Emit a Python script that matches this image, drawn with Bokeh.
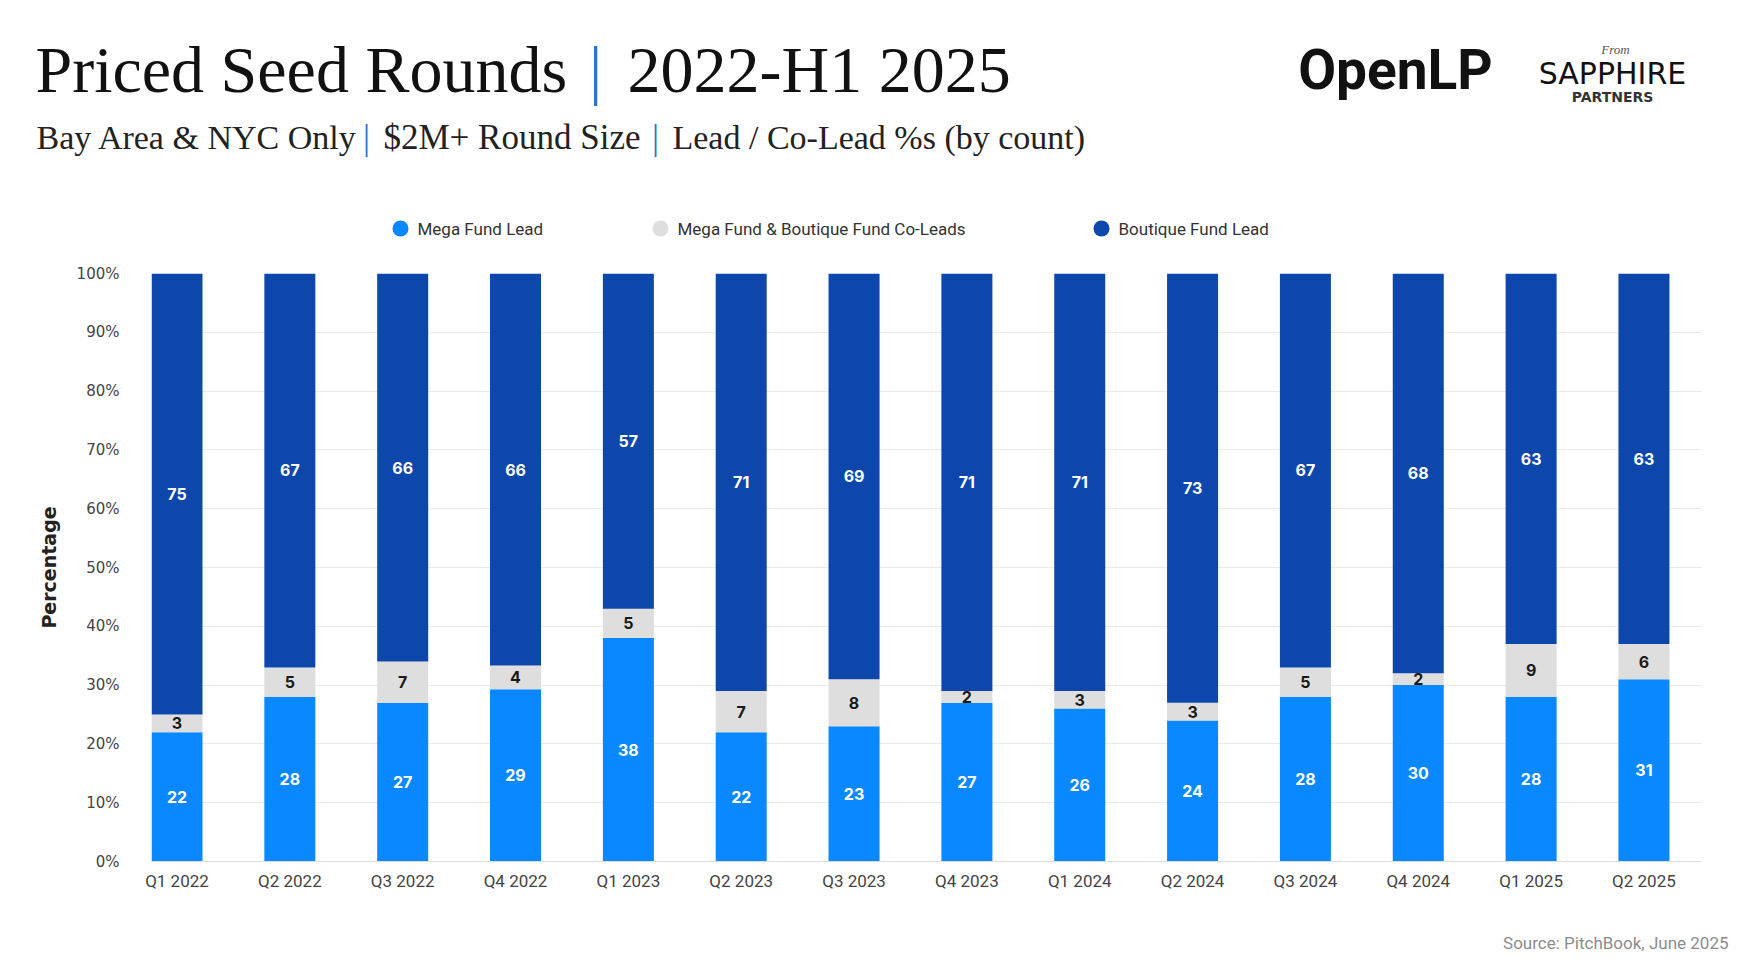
from bokeh.plotting import figure
from bokeh.layouts import column
from bokeh.models import (Range1d, FixedTicker, PrintfTickFormatter, ColumnDataSource, Label)
from bokeh.embed import file_html
from bokeh.resources import INLINE
from bokeh.core.properties import value

quarters = ["Q1 2022", "Q2 2022", "Q3 2022", "Q4 2022", "Q1 2023", "Q2 2023", "Q3 2023",
            "Q4 2023", "Q1 2024", "Q2 2024", "Q3 2024", "Q4 2024", "Q1 2025", "Q2 2025"]
mega_lead = [22, 28, 27, 29, 38, 22, 23, 27, 26, 24, 28, 30, 28, 31]
co_leads = [3, 5, 7, 4, 5, 7, 8, 2, 3, 3, 5, 2, 9, 6]
boutique_lead = [75, 67, 66, 66, 57, 71, 69, 71, 71, 73, 67, 68, 63, 63]
y_ticks = [0, 10, 20, 30, 40, 50, 60, 70, 80, 90, 100]
series_names = ["Mega Fund Lead", "Mega Fund & Boutique Fund Co-Leads", "Boutique Fund Lead"]

MEGA = "#0A88FF"
CO = "#DEDEDE"
BOUT = "#0D47AB"
SEP = "#2C74C9"
series_colors = [MEGA, CO, BOUT]

W = 1746
HEAD_H = 260
CHART_H = 645
FOOT_H = 55
FL, FR, FT, FB = 151, 1701, 273, 861   # frame in page coords


def blank(height):
    f = figure(width=W, height=height, output_backend="svg", toolbar_location=None,
               x_range=Range1d(0, W), y_range=Range1d(height, 0), title=None,
               x_axis_type=None, y_axis_type=None, min_border=0)
    f.min_border_left = f.min_border_right = f.min_border_top = f.min_border_bottom = 0
    f.frame_align = False
    f.xgrid.visible = False
    f.ygrid.visible = False
    f.outline_line_color = None
    f.background_fill_color = "white"
    f.border_fill_color = "white"
    return f


# ---------------- header ----------------
head = blank(HEAD_H)


def hlab(fig, text, x, y, **kw):
    fig.add_layout(Label(x=x, y=y, text=text, **kw))


serif = dict(text_font="Liberation Serif", text_baseline="alphabetic")
TY = 69
hlab(head, "Priced Seed Rounds", 35, TY, text_font_size="66px", text_color="#111111", **serif)
hlab(head, "|", 595, TY, text_font_size="66px", text_color=SEP, text_align="center", **serif)
hlab(head, "2022-H1 2025", 627, TY, text_font_size="66px", text_color="#111111", **serif)

SY = 137
hlab(head, "Bay Area & NYC Only", 36, SY, text_font_size="34px", text_color="#222222", **serif)
hlab(head, "|", 366, SY, text_font_size="35px", text_color=SEP, text_align="center", **serif)
hlab(head, "$2M+ Round Size", 383, SY, text_font_size="35px", text_color="#222222", **serif)
hlab(head, "|", 655, SY, text_font_size="35px", text_color=SEP, text_align="center", **serif)
hlab(head, "Lead / Co-Lead %s (by count)", 672, SY, text_font_size="34px",
     text_color="#222222", **serif)

hlab(head, "OpenLP", 1395, 69, text_font="Roboto", text_font_style="bold", text_font_size="55px",
     text_color="#111111", text_align="center", text_baseline="alphabetic")
hlab(head, "From", 1615, 49, text_font="Liberation Serif", text_font_style="italic",
     text_font_size="13px", text_color="#555555", text_align="center", text_baseline="alphabetic")
hlab(head, "SAPPHIRE", 1612, 73, text_font="DejaVu Sans", text_font_size="30px",
     text_color="#111111", text_align="center", text_baseline="alphabetic")
hlab(head, "PARTNERS", 1612, 96, text_font="DejaVu Sans", text_font_style="bold",
     text_font_size="14px", text_color="#333333", text_align="center", text_baseline="alphabetic")

# legend
leg_x = [400, 660, 1101]
leg_src = ColumnDataSource(dict(x=leg_x, tx=[x + 17 for x in leg_x], y=[228] * 3,
                                name=series_names, color=series_colors))
head.scatter(x="x", y="y", size=16, marker="circle", fill_color="color", line_color=None,
             source=leg_src)
head.text(x="tx", y="y", text="name", text_font=value("Roboto"), text_font_size="17px",
          text_color="#333333", text_baseline="middle", text_align="left", source=leg_src)

# ---------------- chart ----------------
xs = list(range(len(quarters)))
tot = [m + c + b for m, c, b in zip(mega_lead, co_leads, boutique_lead)]
m_top = [m / t * 100 for m, t in zip(mega_lead, tot)]
c_top = [(m + c) / t * 100 for m, c, t in zip(mega_lead, co_leads, tot)]
src = ColumnDataSource(dict(
    x=xs,
    m_top=m_top,
    c_top=c_top,
    b_top=[100.0] * len(xs),
    m_mid=[v / 2 for v in m_top],
    c_mid=[(a + b) / 2 for a, b in zip(m_top, c_top)],
    b_mid=[(a + 100) / 2 for a in c_top],
    m_lbl=[str(v) for v in mega_lead],
    c_lbl=[str(v) for v in co_leads],
    b_lbl=[str(v) for v in boutique_lead],
))

top_y = HEAD_H
p = figure(width=W, height=CHART_H, output_backend="svg", toolbar_location=None,
           x_range=Range1d(-0.226, 13.51), y_range=Range1d(0, 100), title=None,
           min_border_left=FL, min_border_right=W - FR,
           min_border_top=FT - top_y, min_border_bottom=top_y + CHART_H - FB)
p.frame_align = False
p.background_fill_color = "white"
p.border_fill_color = "white"
p.outline_line_color = None

BW = 0.452
p.vbar(x="x", width=BW, bottom=0, top="m_top", fill_color=MEGA, line_color=None, source=src)
p.vbar(x="x", width=BW, bottom="m_top", top="c_top", fill_color=CO, line_color=None, source=src)
p.vbar(x="x", width=BW, bottom="c_top", top="b_top", fill_color=BOUT, line_color=None, source=src)

common = dict(text_font=value("Inter"), text_font_style="bold", text_font_size="16px",
              text_align="center", text_baseline="middle", source=src)
p.text(x="x", y="m_mid", text="m_lbl", text_color="white", **common)
p.text(x="x", y="c_mid", text="c_lbl", text_color="#1A1A1A", **common)
p.text(x="x", y="b_mid", text="b_lbl", text_color="white", **common)

p.xaxis.ticker = FixedTicker(ticks=xs)
p.xaxis.major_label_overrides = {i: q for i, q in zip(xs, quarters)}
p.xaxis.major_tick_line_color = None
p.xaxis.minor_tick_line_color = None
p.xaxis.major_tick_out = 0
p.xaxis.axis_line_color = "#DDDDDD"
p.xaxis.major_label_standoff = 9
p.xaxis.major_label_text_font = "Roboto"
p.xaxis.major_label_text_font_size = "17px"
p.xaxis.major_label_text_color = "#444444"

p.yaxis.ticker = FixedTicker(ticks=y_ticks)
p.yaxis.formatter = PrintfTickFormatter(format="%d%%")
p.yaxis.major_tick_line_color = None
p.yaxis.minor_tick_line_color = None
p.yaxis.major_tick_out = 0
p.yaxis.axis_line_color = None
p.yaxis.major_label_standoff = 32
p.yaxis.major_label_text_font = "DejaVu Sans"
p.yaxis.major_label_text_font_size = "15px"
p.yaxis.major_label_text_color = "#444444"
p.yaxis.axis_label = "Percentage"
p.yaxis.axis_label_text_font = "DejaVu Sans"
p.yaxis.axis_label_text_font_style = "bold"
p.yaxis.axis_label_text_font_size = "19px"
p.yaxis.axis_label_text_color = "#222222"
p.yaxis.axis_label_standoff = 14

p.xgrid.grid_line_color = None
p.ygrid.ticker = FixedTicker(ticks=y_ticks)
p.ygrid.grid_line_color = "#EBEBEB"

# ---------------- footer ----------------
foot = blank(FOOT_H)
foot_top = HEAD_H + CHART_H
hlab(foot, "Source: PitchBook, June 2025", 1728, 942 - foot_top, text_font="Roboto",
     text_font_size="17px", text_color="#8C8C8C", text_align="right", text_baseline="middle")

layout = column(head, p, foot, spacing=0)
open("out.html", "w").write(file_html(layout, INLINE))
